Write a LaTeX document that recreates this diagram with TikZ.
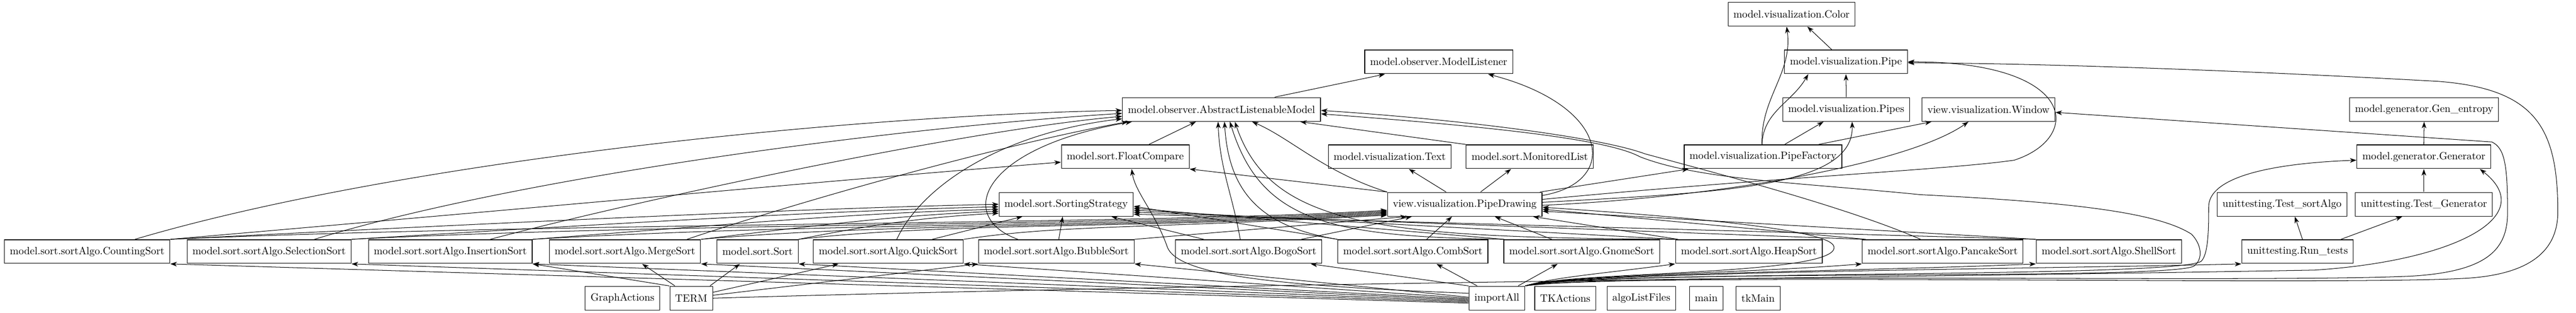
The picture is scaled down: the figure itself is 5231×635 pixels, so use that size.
\documentclass[tikz,border=0pt]{standalone}
\usetikzlibrary{arrows.meta,calc}
\begin{document}
\begin{tikzpicture}[x=0.75pt, y=-0.75pt,
    mod/.style={draw, line width=0.9pt, scale=1.6, transform shape, minimum height=22.5pt, inner xsep=5.1pt, inner ysep=0pt, font=\fontsize{10}{12}\selectfont},
    dep/.style={line width=0.8pt, -{Stealth[length=10pt, width=7pt, inset=3pt]}}]
    \useasboundingbox (0,0) rectangle (5231,635);
    % upper rows
    \node[mod] (col) at (3638,29) {model.visualization.Color};
    \node[mod] (mlis) at (2921.5,125.5) {model.observer.ModelListener};
    \node[mod] (pipe) at (3748.5,125.5) {model.visualization.Pipe};
    \node[mod] (alm) at (2480.5,222) {model.observer.AbstractListenableModel};
    \node[mod] (pps) at (3749,222) {model.visualization.Pipes};
    \node[mod] (win) at (4038,222) {view.visualization.Window};
    \node[mod] (ge) at (4922.5,222) {model.generator.Gen\_entropy};
    \node[mod] (fc) at (2285,318) {model.sort.FloatCompare};
    \node[mod] (txt) at (2822,318) {model.visualization.Text};
    \node[mod] (ml) at (3106.5,318) {model.sort.MonitoredList};
    \node[mod] (pf) at (3580,318) {model.visualization.PipeFactory};
    \node[mod] (gen) at (4922,318) {model.generator.Generator};
    \node[mod] (ss) at (2165,414.5) {model.sort.SortingStrategy};
    \node[mod] (pd) at (2974.5,414.5) {view.visualization.PipeDrawing};
    \node[mod] (tsa) at (4634,414.5) {unittesting.Test\_sortAlgo};
    \node[mod] (tg) at (4922,414.5) {unittesting.Test\_Generator};
    % sort algorithms
    \node[mod] (cs) at (177,510.5) {model.sort.sortAlgo.CountingSort};
    \node[mod] (sel) at (546.5,510.5) {model.sort.sortAlgo.SelectionSort};
    \node[mod] (ins) at (914.5,510.5) {model.sort.sortAlgo.InsertionSort};
    \node[mod] (mer) at (1269,510.5) {model.sort.sortAlgo.MergeSort};
    \node[mod] (srt) at (1538.4,510.5) {model.sort.Sort};
    \node[mod] (qui) at (1804,510.5) {model.sort.sortAlgo.QuickSort};
    \node[mod] (bub) at (2145,510.5) {model.sort.sortAlgo.BubbleSort};
    \node[mod] (bog) at (2535.5,510.5) {model.sort.sortAlgo.BogoSort};
    \node[mod] (comb) at (2869,510.5) {model.sort.sortAlgo.CombSort};
    \node[mod] (gno) at (3212,510.5) {model.sort.sortAlgo.GnomeSort};
    \node[mod] (heap) at (3551.5,510.5) {model.sort.sortAlgo.HeapSort};
    \node[mod] (pan) at (3945,510.5) {model.sort.sortAlgo.PancakeSort};
    \node[mod] (she) at (4282.5,510.5) {model.sort.sortAlgo.ShellSort};
    \node[mod] (run) at (4665.5,510.5) {unittesting.Run\_tests};
    % bottom row
    \node[mod] (ga) at (1264,605) {GraphActions};
    \node[mod] (term) at (1403.6,605) {TERM};
    \node[mod] (imp) at (3039.7,605) {importAll};
    \node[mod] (tka) at (3178.5,605) {TKActions};
    \node[mod] (alf) at (3333,605) {algoListFiles};
    \node[mod] (mainm) at (3464.8,605) {main};
    \node[mod] (tkm) at (3570,605) {tkMain};

    % model and view
    \draw[dep] ($(alm.north)+(108,0)$) -- ($(mlis.south west)+(42,0)$);
    \draw[dep] ($(pd.east)+(0,-18)$) .. controls (3290,370) and (3270,215) .. ($(mlis.south east)+(-51,0)$);
    \draw[dep] ($(pipe.north)+(-29,0)$) -- ($(col.south)+(32,0)$);
    \draw[dep] ($(pf.north)+(-2,0)$) to[out=92, in=-82] ($(col.south)+(-10,0)$);
    \draw[dep] ($(pf.north)+(-2,0)$) to[out=88, in=-120] ($(pipe.south west)+(49,0)$);
    \draw[dep] (pps.north) -- (pipe.south);
    \draw[dep] ($(pf.north)+(44,0)$) -- ($(pps.south)+(-46,0)$);
    \draw[dep] ($(pf.north east)+(-48,0)$) -- ($(win.south west)+(20,0)$);
    \draw[dep] ($(pd.east)+(0,-4)$) .. controls (3500,390) and (3765,380) .. ($(pps.south)+(12,0)$);
    \draw[dep] ($(pd.east)+(0,2)$) .. controls (3500,400) and (3880,330) .. ($(win.south west)+(95,0)$);
    \draw[dep] ($(pd.east)+(0,-10)$) .. controls (3600,360) and (3950,345) .. (4090,325) .. controls (4230,280) and (4220,125) .. (pipe.east);
    \draw[dep] ($(pd.north east)+(-5,0)$) -- ($(pf.south west)+(10,0)$);
    \draw[dep] ($(pd.north)+(-38,0)$) -- ($(txt.south)+(39,0)$);
    \draw[dep] ($(pd.north)+(32,0)$) -- ($(ml.south)+(-38,0)$);
    \draw[dep] (ml.north west) -- ($(alm.south east)+(-42,0)$);
    \draw[dep] (pd.north west) .. controls (2690,350) and (2620,280) .. ($(alm.south)+(62,0)$);
    \draw[dep] (pd.north west) -- (fc.south east);
    \draw[dep] ($(fc.north)+(48,0)$) -- ($(alm.south)+(-52,0)$);
    % generator and tests
    \draw[dep] (gen.north) -- (ge.south);
    \draw[dep] (tg.north) -- (gen.south);
    \draw[dep] ($(run.north)+(10,0)$) -- ($(tsa.south)+(26,0)$);
    \draw[dep] ($(run.north east)+(-26,0)$) -- ($(tg.south)+(-44,0)$);

    % sort algorithms -> AbstractListenableModel
    \draw[dep] ($(cs.north)+(97,0)$) .. controls (800,330) and (1700,235) .. ($(alm.west)+(0,2)$);
    \draw[dep] ($(sel.north)+(92,0)$) .. controls (1050,360) and (1800,260) .. ($(alm.west)+(0,8)$);
    \draw[dep] ($(ins.north)+(81,0)$) .. controls (1280,410) and (1950,265) .. ($(alm.west)+(0,14)$);
    \draw[dep] ($(mer.north)+(126,0)$) .. controls (1650,400) and (2050,290) .. ($(alm.south west)+(12,0)$);
    \draw[dep] ($(qui.north)+(17,0)$) .. controls (1870,380) and (2030,270) .. ($(alm.west)+(0,19)$);
    \draw[dep] ($(bub.north)+(-78,0)$) .. controls (1940,440) and (1990,300) .. ($(alm.south west)+(20,0)$);
    \draw[dep] ($(bog.north)+(-17,0)$) to[out=100, in=-88] ($(alm.south)+(-7,0)$);
    \draw[dep] (comb.north west) .. controls (2560,460) and (2495,390) .. ($(alm.south)+(6,0)$);
    \draw[dep] (gno.north west) .. controls (2700,480) and (2560,450) .. ($(alm.south)+(17,0)$);
    \draw[dep] (heap.north west) .. controls (2800,482) and (2580,460) .. ($(alm.south)+(27,0)$);
    \draw[dep] ($(pan.north)+(-45,0)$) .. controls (3750,420) and (3480,350) .. (3340,312) .. controls (3260,282) and (3000,245) .. ($(alm.east)+(0,2)$);
    % sort algorithms -> SortingStrategy
    \draw[dep] (cs.north east) .. controls +(600,-30) and +(-400,8) .. (ss.west);
    \draw[dep] (sel.north east) .. controls +(500,-30) and +(-350,8) .. ($(ss.west)+(0,5)$);
    \draw[dep] (ins.north east) .. controls +(400,-30) and +(-300,8) .. ($(ss.west)+(0,10)$);
    \draw[dep] (mer.north east) .. controls +(250,-30) and +(-200,8) .. ($(ss.west)+(0,14)$);
    \draw[dep] (srt.north east) .. controls +(150,-30) and +(-150,8) .. ($(ss.west)+(0,18)$);
    \draw[dep] ($(qui.north)+(89,0)$) -- ($(ss.south west)+(48,0)$);
    \draw[dep] ($(bub.north)+(5,0)$) -- ($(ss.south)+(-7,0)$);
    \draw[dep] ($(bog.north)+(-91,0)$) -- ($(ss.south east)+(-45,0)$);
    \draw[dep] (comb.north west) -- ($(ss.east)+(0,4)$);
    \draw[dep] ($(gno.north west)+(2,0)$) -- ($(ss.east)+(0,8)$);
    \draw[dep] (heap.north west) -- ($(ss.east)+(0,12)$);
    \draw[dep] (pan.north west) -- ($(ss.east)+(0,16)$);
    \draw[dep] (she.north west) -- ($(ss.east)+(0,20)$);
    % sort algorithms -> PipeDrawing
    \draw[dep] (cs.north east) .. controls +(800,-35) and +(-500,30) .. ($(pd.west)+(0,12)$);
    \draw[dep] (sel.north east) .. controls +(700,-35) and +(-500,30) .. ($(pd.west)+(0,14)$);
    \draw[dep] (ins.north east) .. controls +(600,-35) and +(-500,30) .. ($(pd.west)+(0,16)$);
    \draw[dep] (mer.north east) .. controls +(400,-35) and +(-500,30) .. ($(pd.west)+(0,18)$);
    \draw[dep] (srt.north east) .. controls +(300,-35) and +(-500,30) .. ($(pd.west)+(0,20)$);
    \draw[dep] (qui.north east) .. controls +(200,-30) and +(-500,28) .. ($(pd.west)+(0,22)$);
    \draw[dep] (bub.north east) -- ($(pd.south west)+(40,0)$);
    \draw[dep] ($(bog.north)+(107,0)$) -- ($(pd.south west)+(50,0)$);
    \draw[dep] ($(comb.north)+(28,0)$) -- ($(pd.south)+(-26,0)$);
    \draw[dep] ($(gno.north)+(-61,0)$) -- ($(pd.south)+(61,0)$);
    \draw[dep] ($(heap.north west)+(6,0)$) -- ($(pd.south east)+(-19,0)$);
    \draw[dep] ($(pan.north west)+(8,0)$) -- ($(pd.east)+(0,10)$);
    \draw[dep] (she.north west) -- ($(pd.east)+(0,14)$);
    \draw[dep] (cs.north east) .. controls +(700,-60) and +(-500,40) .. ($(fc.west)+(0,11)$);

    % TERM
    \draw[dep] (term.north west) -- (ins.south east);
    \draw[dep] ($(term.north)+(-33,0)$) -- ($(mer.south)+(35,0)$);
    \draw[dep] ($(term.north)+(38,0)$) -- ($(srt.south)+(-36,0)$);
    \draw[dep] ($(term.east)+(0,-12)$) -- ($(qui.south west)+(52,0)$);
    \draw[dep] ($(term.east)+(0,-6)$) -- (bub.south west);
    \draw[dep] (term.east) .. controls (2500,574) and (3800,564) .. (4700,548) .. controls (4980,530) and (5160,440) .. ($(gen.south east)+(-23,0)$);
    % importAll
    \draw[dep] ($(imp.west)+(0,10)$) -- (cs.south east);
    \draw[dep] ($(imp.west)+(0,8)$) -- (sel.south east);
    \draw[dep] ($(imp.west)+(0,6)$) -- (ins.south east);
    \draw[dep] ($(imp.west)+(0,4)$) -- (mer.south east);
    \draw[dep] ($(imp.west)+(0,2)$) -- (srt.south east);
    \draw[dep] (imp.west) -- (qui.south east);
    \draw[dep] ($(imp.west)+(0,-2)$) -- (bub.south east);
    \draw[dep] (imp.north west) -- ($(bog.south)+(126,0)$);
    \draw[dep] ($(imp.north)+(-40,0)$) -- ($(comb.south)+(48,0)$);
    \draw[dep] ($(imp.north)+(43,0)$) -- ($(gno.south)+(-49,0)$);
    \draw[dep] (imp.north east) .. controls +(60,-18) and +(-150,20) .. (heap.south west);
    \draw[dep] (imp.north east) .. controls +(70,-22) and +(-250,20) .. (pan.south west);
    \draw[dep] (imp.north east) .. controls +(80,-25) and +(-350,15) .. (she.south west);
    \draw[dep] (imp.north east) .. controls +(90,-28) and +(-400,10) .. (run.south west);
    \draw[dep] ($(imp.west)+(0,-10)$) .. controls (2600,580) and (2390,560) .. (2370,500) .. controls (2345,430) and (2305,390) .. ($(fc.south)+(13,0)$);
    \draw[dep] (imp.north east) .. controls (3180,550) and (3740,560) .. (3724,500) .. controls (3716,470) and (3500,445) .. ($(pd.east)+(0,6)$);
    \draw[dep] (imp.north east) .. controls (3250,545) and (4400,570) .. (4455,540) .. controls (4475,525) and (4470,495) .. (4450,475) .. controls (4380,430) and (4200,410) .. (3900,395) .. controls (3650,370) and (3450,365) .. (3330,318) .. controls (3260,280) and (3000,255) .. ($(alm.east)+(0,9)$);
    \draw[dep] (imp.north east) .. controls (3250,548) and (4420,565) .. (4470,530) .. controls (4485,515) and (4485,460) .. (4485,420) .. controls (4485,350) and (4650,330) .. ($(gen.west)+(0,7)$);
    \draw[dep] (imp.north east) .. controls (3300,550) and (4600,575) .. (4900,560) .. controls (5060,550) and (5092,500) .. (5092,430) .. controls (5092,330) and (5085,300) .. (5060,288) -- ($(win.east)+(0,6)$);
    \draw[dep] (imp.north east) .. controls (3300,552) and (4700,580) .. (5000,565) .. controls (5150,558) and (5194,500) .. (5194,430) .. controls (5194,260) and (5150,180) .. (4950,165) .. controls (4500,140) and (4100,128) .. ($(pipe.east)+(0,2)$);
\end{tikzpicture}
\end{document}
